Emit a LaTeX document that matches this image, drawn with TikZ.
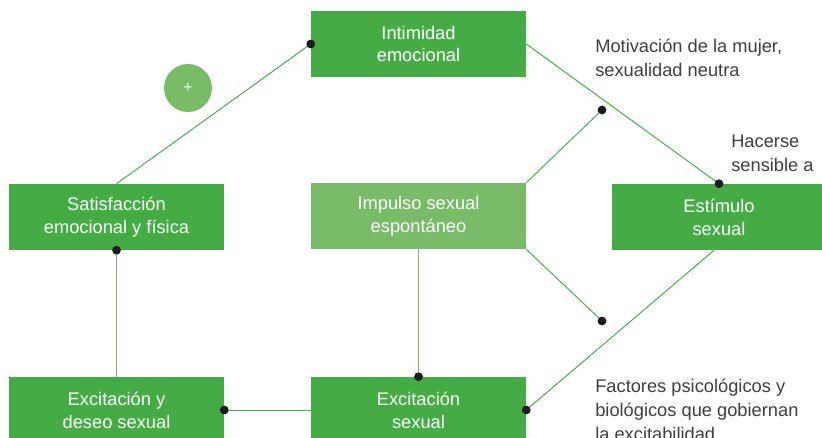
\documentclass[tikz,border=0pt]{standalone}
\usepackage{fontspec}
\setmainfont{Liberation Sans}
\usetikzlibrary{positioning}
\definecolor{grass}{RGB}{69,171,69}
\definecolor{sage}{RGB}{122,187,106}
\definecolor{ink}{RGB}{30,28,30}
\definecolor{slate}{RGB}{62,62,62}
\tikzset{
  box/.style={fill=#1,text=white,minimum width=53.75mm,minimum height=16.5mm,
    inner sep=0pt,align=center,font=\fontsize{13}{16.3}\selectfont},
  box/.default=grass,
  dot/.style={circle,fill=ink,inner sep=0pt,minimum size=2.2mm},
  link/.style={draw=#1,line width=0.7pt},
  link/.default=grass,
  note/.style={anchor=west,inner sep=0pt,align=left,text=slate,
    font=\fontsize{13}{17}\selectfont},
}
\begin{document}
\begin{tikzpicture}
  \useasboundingbox (0,0) rectangle (20.55,10.95);
  % boxes
  \node[box] (intim) at (10.4625,9.85) {Intimidad\\emocional};
  \node[box] (satis) at (2.9125,5.525) {Satisfacción\\emocional y física};
  \node[box=sage] (impul) at (10.4625,5.55) {Impulso sexual\\espontáneo};
  \node[box] (estim) at (17.975,5.525) {Estímulo\\sexual};
  \node[box] (exdes) at (2.9125,0.7) {Excitación y\\deseo sexual};
  \node[box] (exsex) at (10.4625,0.7) {Excitación\\sexual};
  \node[circle,fill=sage,minimum size=12mm,inner sep=0pt,text=white,
    font=\fontsize{11}{11}\selectfont] (plus) at (4.7,8.75) {+};
  % labels
  \node[note] (motiv) at (14.875,9.5) {Motivación de la mujer,\\sexualidad neutra};
  \node[note] (sensi) at (18.275,7.11) {Hacerse\\sensible a};
  \node[note] (facto) at (14.875,0.7) {Factores psicológicos y\\biológicos que gobiernan\\la excitabilidad};
  % connectors
  \coordinate (up) at (15.05,8.2);
  \coordinate (dn) at (15.05,2.925);
  \draw[link] (satis.north) -- (intim.west);
  \draw[link] (intim.east) -- (estim.north);
  \draw[link] (impul.north east) -- (up);
  \draw[link] (impul.south east) -- (dn);
  \draw[link] ([xshift=-1.25mm]estim.south) -- (exsex.east);
  \draw[link=sage,line width=1pt] (satis.south) -- (exdes.north);
  \draw[link=sage,line width=1pt] (impul.south) -- (exsex.north);
  \draw[link] (exdes.east) -- (exsex.west);
  % dots
  \node[dot] (d1) at (intim.west) {};
  \node[dot] (d2) at (estim.north) {};
  \node[dot] (d3) at (up) {};
  \node[dot] (d4) at (dn) {};
  \node[dot] (d5) at (exsex.east) {};
  \node[dot] (d6) at (satis.south) {};
  \node[dot] (d7) at (exsex.north) {};
  \node[dot] (d8) at (exdes.east) {};
\end{tikzpicture}
\end{document}
